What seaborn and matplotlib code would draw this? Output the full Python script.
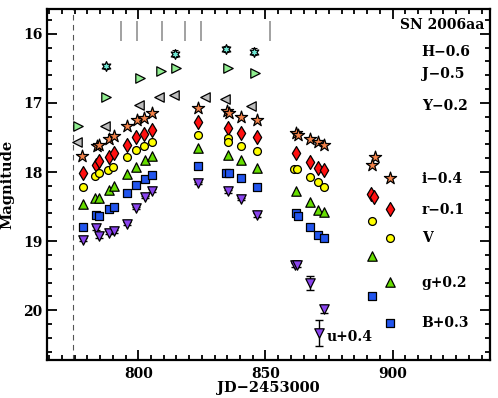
import matplotlib
matplotlib.use("Agg")
import matplotlib.pyplot as plt
from matplotlib.ticker import MultipleLocator
import numpy as np
import pandas as pd
import seaborn as sns

# ---------------- data ----------------
H_jd = [787.2, 814.5, 834.7, 845.6]
H_mag = [16.47, 16.29, 16.22, 16.26]

J_jd = [776.3, 787.5, 800.6, 808.9, 814.8, 835.1, 846.1]
J_mag = [17.34, 16.91, 16.64, 16.54, 16.50, 16.49, 16.57]

Y_jd = [775.9, 787.1, 800.1, 808.1, 814.1, 826.2, 834.3, 844.5]
Y_mag = [17.56, 17.34, 17.03, 16.92, 16.88, 16.91, 16.95, 17.04]

i_jd = [778.0, 783.8, 784.6, 788.5, 790.4, 795.4, 799.5, 802.4, 805.3, 823.5,
        834.9, 835.6, 840.6, 846.7, 862.0, 862.9, 867.7, 870.7, 873.0, 893.0, 892.0]
i_mag = [17.77, 17.62, 17.61, 17.52, 17.48, 17.33, 17.25, 17.22, 17.15, 17.08,
         17.12, 17.15, 17.20, 17.25, 17.44, 17.46, 17.52, 17.57, 17.61, 17.78, 17.90]

r_jd = [778.3, 783.3, 784.7, 788.5, 790.4, 795.4, 799.3, 802.4, 805.3, 823.5,
        835.1, 840.6, 846.7, 862.2, 867.7, 870.7, 873.0, 891.7, 892.8]
r_mag = [18.02, 17.90, 17.84, 17.78, 17.73, 17.61, 17.49, 17.45, 17.39, 17.27,
         17.36, 17.43, 17.50, 17.73, 17.86, 17.94, 17.97, 18.32, 18.36]

V_jd = [778.3, 782.9, 784.6, 788.1, 790.1, 795.4, 799.3, 802.4, 805.4, 823.5,
        835.1, 835.3, 840.6, 846.7, 861.4, 862.6, 867.7, 870.7, 873.0, 892.0]
V_mag = [18.22, 18.06, 18.02, 17.97, 17.93, 17.78, 17.68, 17.62, 17.57, 17.46,
         17.51, 17.56, 17.62, 17.70, 17.95, 17.95, 18.07, 18.14, 18.21, 18.71]

g_jd = [778.3, 782.9, 784.6, 788.5, 790.4, 795.4, 799.3, 802.6, 805.5, 823.5,
        835.3, 840.6, 846.7, 862.2, 867.7, 870.7, 873.0, 892.0]
g_mag = [18.46, 18.37, 18.37, 18.26, 18.20, 18.03, 17.93, 17.83, 17.77, 17.65,
         17.75, 17.83, 17.94, 18.27, 18.43, 18.55, 18.58, 19.22]

B_jd = [778.3, 783.3, 784.6, 788.5, 790.4, 795.4, 799.3, 802.6, 805.4, 823.5,
        834.4, 835.8, 840.6, 846.7, 862.0, 862.9, 867.7, 870.7, 873.0, 892.1]
B_mag = [18.79, 18.62, 18.64, 18.53, 18.50, 18.31, 18.19, 18.10, 18.04, 17.91,
         18.02, 18.02, 18.09, 18.22, 18.59, 18.63, 18.80, 18.91, 18.95, 19.79]

u_jd = [778.3, 783.3, 784.6, 788.5, 790.4, 795.4, 799.3, 802.6, 805.4, 823.5,
        835.1, 840.6, 846.7, 861.8, 862.6, 867.7, 873.0, 871.0]
u_mag = [18.98, 18.81, 18.93, 18.88, 18.86, 18.75, 18.52, 18.36, 18.27, 18.16,
         18.28, 18.39, 18.62, 19.34, 19.35, 19.61, 19.98, 20.33]
u_err = [0.02, 0.03, 0.03, 0.02, 0.02, 0.02, 0.02, 0.02, 0.02, 0.02,
         0.02, 0.02, 0.03, 0.03, 0.03, 0.10, 0.06, 0.19]

H_err = [0.04, 0.05, 0.04, 0.05]

spec_jd = [793.4, 799.5, 809.5, 818.4, 824.7, 851.7]
ref_jd = 774.4

bands = ["H", "J", "Y", "i", "r", "V", "g", "B", "u"]
band_labels = {"H": "H−0.6", "J": "J−0.5", "Y": "Y−0.2", "i": "i−0.4",
               "r": "r−0.1", "V": "V", "g": "g+0.2", "B": "B+0.3", "u": "u+0.4"}

series = {"H": (H_jd, H_mag), "J": (J_jd, J_mag), "Y": (Y_jd, Y_mag),
          "i": (i_jd, i_mag), "r": (r_jd, r_mag), "V": (V_jd, V_mag),
          "g": (g_jd, g_mag), "B": (B_jd, B_mag), "u": (u_jd, u_mag)}

df = pd.concat([pd.DataFrame({"jd": j, "mag": m, "band": b})
                for b, (j, m) in series.items()], ignore_index=True)

# ---------------- styling ----------------
sns.set_style("ticks")
plt.rcParams["font.family"] = ["DejaVu Serif"]
plt.rcParams["font.weight"] = "bold"
plt.rcParams["axes.labelweight"] = "bold"
plt.rcParams["text.color"] = "black"
plt.rcParams["axes.labelcolor"] = "black"

style = {
    "H": dict(marker=(6, 1, 0), color="#6FE6D2", s=50),
    "J": dict(marker=">", color="#90EE90", s=46),
    "Y": dict(marker="<", color="#BDBDBD", s=46),
    "i": dict(marker="*", color="#F4834A", s=85),
    "r": dict(marker="d", color="#FF1010", s=50),
    "V": dict(marker="o", color="#FFFF00", s=32),
    "g": dict(marker="^", color="#66DD00", s=46),
    "B": dict(marker="s", color="#2255EE", s=26),
    "u": dict(marker="v", color="#8A44EE", s=46),
}

fig = plt.figure(figsize=(4.98, 3.98), dpi=100)
ax = fig.add_axes([0.0938, 0.0955, 0.890, 0.882])

# error bars (drawn underneath markers)
ax.errorbar(u_jd, u_mag, yerr=u_err, fmt="none", ecolor="black",
            elinewidth=1.0, capsize=3, capthick=1.0, zorder=2)
ax.errorbar(H_jd, H_mag, yerr=H_err, fmt="none", ecolor="black",
            elinewidth=0.8, capsize=2, capthick=0.8, zorder=2)

for b in bands:
    st = style[b]
    sns.scatterplot(data=df[df.band == b], x="jd", y="mag", ax=ax,
                    marker=st["marker"], color=st["color"], s=st["s"],
                    edgecolor="black", linewidth=0.9, zorder=3, legend=False)

# reference epoch and spectra epochs
ax.axvline(ref_jd, color="#555555", ls=(0, (5, 4)), lw=0.8, zorder=1)
ax.vlines(spec_jd, 15.82, 16.11, color="#9A9A9A", lw=1.3, zorder=1)

ax.set_xlim(764, 938.3)
ax.set_ylim(20.72, 15.64)

ax.xaxis.set_major_locator(MultipleLocator(50))
ax.xaxis.set_minor_locator(MultipleLocator(5))
ax.yaxis.set_major_locator(MultipleLocator(1))
ax.yaxis.set_minor_locator(MultipleLocator(0.2))
ax.tick_params(which="both", direction="in", top=True, right=True,
               width=1.3, labelsize=10, color="black", labelcolor="black")
ax.tick_params(which="major", length=7)
ax.tick_params(which="minor", length=3.5)
ax.tick_params(axis="x", pad=5)
ax.tick_params(axis="y", pad=3)
for sp in ax.spines.values():
    sp.set_linewidth(1.6)
    sp.set_color("black")

ax.set_xlabel("JD−2453000", fontsize=10.5, fontweight="bold", labelpad=0,
              color="black")
ax.set_ylabel("Magnitude", fontsize=10.5, fontweight="bold", labelpad=6,
              color="black")

# in-plot key
fs = 10
ax.text(0.987, 0.954, "SN 2006aa", transform=ax.transAxes, ha="right",
        va="center", fontsize=fs, fontweight="bold", color="black")
tx = 0.846
for b, yy in [("H", 0.877), ("J", 0.815), ("Y", 0.724)]:
    ax.text(tx, yy, band_labels[b], transform=ax.transAxes, ha="left",
            va="center", fontsize=fs, fontweight="bold", color="black")
mx = 0.774
for b, ym, yt in [("i", 0.518, 0.516), ("r", 0.430, 0.427), ("V", 0.348, 0.347),
                  ("g", 0.223, 0.218), ("B", 0.106, 0.105)]:
    st = style[b]
    ax.scatter([mx], [ym], transform=ax.transAxes, marker=st["marker"],
               color=st["color"], s=st["s"], edgecolor="black",
               linewidth=0.9, zorder=3, clip_on=False)
    ax.text(tx, yt, band_labels[b], transform=ax.transAxes, ha="left",
            va="center", fontsize=fs, fontweight="bold", color="black")
ax.text(0.632, 0.065, band_labels["u"], transform=ax.transAxes, ha="left",
        va="center", fontsize=fs, fontweight="bold", color="black")

fig.savefig("out.png", dpi=100)
